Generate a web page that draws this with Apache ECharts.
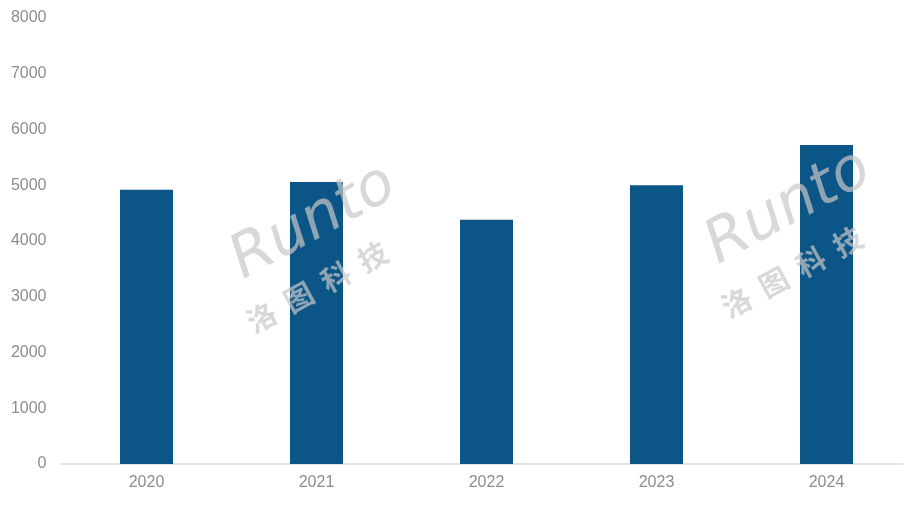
<!DOCTYPE html>
<html>
<head>
<meta charset="utf-8">
<script src="https://cdn.jsdelivr.net/npm/echarts@6/dist/echarts.min.js"></script>
<style>
html,body{margin:0;padding:0;background:#fff;}
#chart{width:903px;height:508px;}
</style>
</head>
<body>
<div id="chart"></div>
<script>
const categories = ['2020', '2021', '2022', '2023', '2024'];
const values = [4920, 5060, 4380, 5000, 5720];
const yTicks = [0, 1000, 2000, 3000, 4000, 5000, 6000, 7000, 8000];

const chart = echarts.init(document.getElementById('chart'));
const labelFont = { color: '#8c8c8c', fontSize: 16, fontFamily: '"Liberation Sans", Arial, sans-serif' };

function watermark(x, y) {
  return [
    {
      type: 'text', x: x, y: y, rotation: 0.5, z: 100,
      style: { text: 'Runto', fontSize: 60, fontStyle: 'italic', fontFamily: '"DejaVu Sans", sans-serif',
               fill: 'rgba(200,200,200,0.7)', textAlign: 'left', textVerticalAlign: 'bottom' }
    },
    {
      type: 'text', x: x + 6, y: y + 45, rotation: 0.5, z: 100,
      style: { text: '洛  图  科  技', fontSize: 29, fontWeight: 'bold', fontFamily: '"Noto Sans CJK SC", sans-serif',
               fill: 'rgba(200,200,200,0.7)', textAlign: 'left', textVerticalAlign: 'bottom' }
    }
  ];
}

chart.setOption({
  animation: false,
  backgroundColor: '#fff',
  grid: { left: 61.5, top: 18, width: 850, height: 446, containLabel: false, outerBoundsMode: 'none' },
  xAxis: {
    type: 'category',
    data: categories,
    axisLine: { show: true, lineStyle: { color: '#d9d9d9', width: 1.5 } },
    axisTick: { show: false },
    axisLabel: Object.assign({ margin: 11 }, labelFont)
  },
  yAxis: {
    type: 'value',
    min: yTicks[0],
    max: yTicks[yTicks.length - 1],
    interval: yTicks[1] - yTicks[0],
    splitLine: { show: false },
    axisLine: { show: false },
    axisTick: { show: false },
    axisLabel: Object.assign({ margin: 15, formatter: function (v) { return String(v); } }, labelFont)
  },
  series: [{
    type: 'bar',
    data: values,
    barWidth: 53,
    itemStyle: { color: '#0b5687' }
  }],
  graphic: watermark(250, 292).concat(watermark(725, 277))
});
</script>
</body>
</html>
